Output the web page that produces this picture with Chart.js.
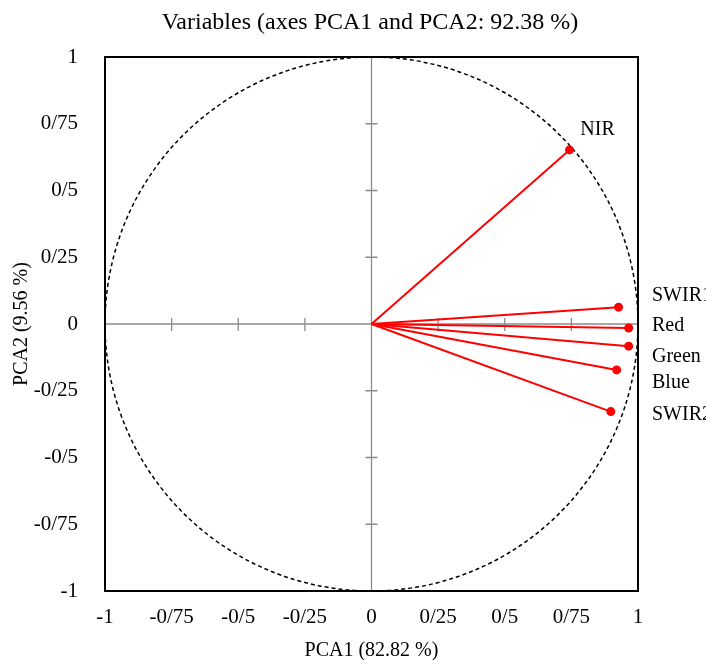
<!DOCTYPE html>
<html>
<head>
<meta charset="utf-8">
<script src="https://cdn.jsdelivr.net/npm/chart.js@4/dist/chart.umd.min.js"></script>
<style>
  html, body { margin: 0; padding: 0; background: #fff; }
  #wrap { width: 706px; height: 660px; }
</style>
</head>
<body>
<div id="wrap"><canvas id="pcaChart"></canvas></div>
<script>
// variable loadings on PCA1 / PCA2
const varNames = ['NIR', 'SWIR1', 'Red', 'Green', 'Blue', 'SWIR2'];
const pca1 = [0.743, 0.927, 0.965, 0.965, 0.920, 0.898];
const pca2 = [0.652, 0.063, -0.015, -0.083, -0.172, -0.328];

const titleText = 'Variables (axes PCA1 and PCA2: 92.38 %)';
const xTitle = 'PCA1 (82.82 %)';
const yTitle = 'PCA2 (9.56 %)';

const FONT = '"Liberation Serif", "Times New Roman", serif';
const RED = '#ff0000';

//label placement next to each vector end (styling only)
const labelStyle = {
    NIR:   { mode: 'point', dx: 28, dy: -20 },
    SWIR1: { mode: 'right', dy: -11 },
    Red:   { mode: 'right', dy: -2 },
    Green: { mode: 'right', dy: 11 },
    Blue:  { mode: 'right', dy: 13 },
    SWIR2: { mode: 'right', dy: 3 }
};

const fmtTick = (v) => {
    if (Math.abs(v) < 1e-9) return '0';
    return String(Math.round(v * 100) / 100).replace('.', '/');
};

const datasets = varNames.map((name, i) => ({
    label: name,
    data: [{ x: 0, y: 0 }, { x: pca1[i], y: pca2[i] }],
    showLine: true,
    borderColor: RED,
    backgroundColor: RED,
    borderWidth: 2,
    pointRadius: [0, 4.5],
    pointBorderWidth: 0
}));

//circle, centre axes, frame, title and labels
const decorPlugin = {
    id: 'decor',
    beforeDatasetsDraw(chart) {
        const { ctx, chartArea: a, scales: { x, y } } = chart;
        const cx = x.getPixelForValue(0), cy = y.getPixelForValue(0);
        ctx.save();
        // centre axes
        ctx.strokeStyle = '#8c8c8c';
        ctx.lineWidth = 1.3;
        ctx.beginPath();
        ctx.moveTo(a.left, cy); ctx.lineTo(a.right, cy);
        ctx.moveTo(cx, a.top); ctx.lineTo(cx, a.bottom);
        for (let v = -0.75; v <= 0.76; v += 0.25) {
            if (Math.abs(v) < 1e-9) continue;
            const px = x.getPixelForValue(v), py = y.getPixelForValue(v);
            ctx.moveTo(px, cy - 6); ctx.lineTo(px, cy + 7);
            ctx.moveTo(cx - 6, py); ctx.lineTo(cx + 6, py);
        }
        ctx.stroke();
        // correlation circle
        const rx = x.getPixelForValue(1) - cx;
        const ry = cy - y.getPixelForValue(1);
        ctx.strokeStyle = '#000';
        ctx.lineWidth = 1.5;
        ctx.setLineDash([4, 3]);
        ctx.beginPath();
        ctx.ellipse(cx, cy, rx, ry, 0, 0, Math.PI * 2);
        ctx.stroke();
        ctx.restore();
    },
    afterDraw(chart) {
        const { ctx, chartArea: a } = chart;
        ctx.save();
        // frame
        ctx.strokeStyle = '#000';
        ctx.lineWidth = 2;
        ctx.strokeRect(a.left, a.top, a.right - a.left, a.bottom - a.top);
        // title
        ctx.fillStyle = '#000';
        ctx.font = '24px ' + FONT;
        ctx.textAlign = 'center';
        ctx.textBaseline = 'middle';
        ctx.fillText(titleText, 370, 23);
        // variable labels
        ctx.font = '20px ' + FONT;
        chart.data.datasets.forEach((ds, i) => {
            const el = chart.getDatasetMeta(i).data[1];
            const st = labelStyle[ds.label];
            if (st.mode === 'point') {
                ctx.textAlign = 'center';
                ctx.fillText(ds.label, el.x + st.dx, el.y + st.dy);
            } else {
                ctx.textAlign = 'left';
                ctx.fillText(ds.label, a.right + 14, el.y + st.dy);
            }
        });
        ctx.restore();
    }
};

new Chart(document.getElementById('pcaChart'), {
    type: 'scatter',
    data: { datasets },
    options: {
        responsive: true,
        maintainAspectRatio: false,
        animation: false,
        layout: { padding: { top: 57, right: 68, left: 0, bottom: 0 } },
        plugins: { legend: { display: false }, tooltip: { enabled: false } },
        scales: {
            x: {
                min: -1, max: 1,
                grid: { display: false },
                border: { display: false },
                ticks: {
                    stepSize: 0.25, color: '#000', padding: 6,
                    font: { family: FONT, size: 21 },
                    maxRotation: 0,
                    callback: (v) => fmtTick(v)
                },
                title: {
                    display: true, text: xTitle, color: '#000',
                    font: { family: FONT, size: 20 }, padding: { top: 4, bottom: -3 }
                },
                afterFit: (s) => { s.height = 69; }
            },
            y: {
                min: -1, max: 1,
                grid: { display: false },
                border: { display: false },
                ticks: {
                    stepSize: 0.25, color: '#000', padding: 19,
                    font: { family: FONT, size: 21 },
                    callback: (v) => fmtTick(v)
                },
                title: {
                    display: true, text: yTitle, color: '#000',
                    font: { family: FONT, size: 20 }, padding: { top: 10, bottom: 4 }
                },
                afterFit: (s) => { s.width = 105; }
            }
        }
    },
    plugins: [decorPlugin]
});
</script>
</body>
</html>
